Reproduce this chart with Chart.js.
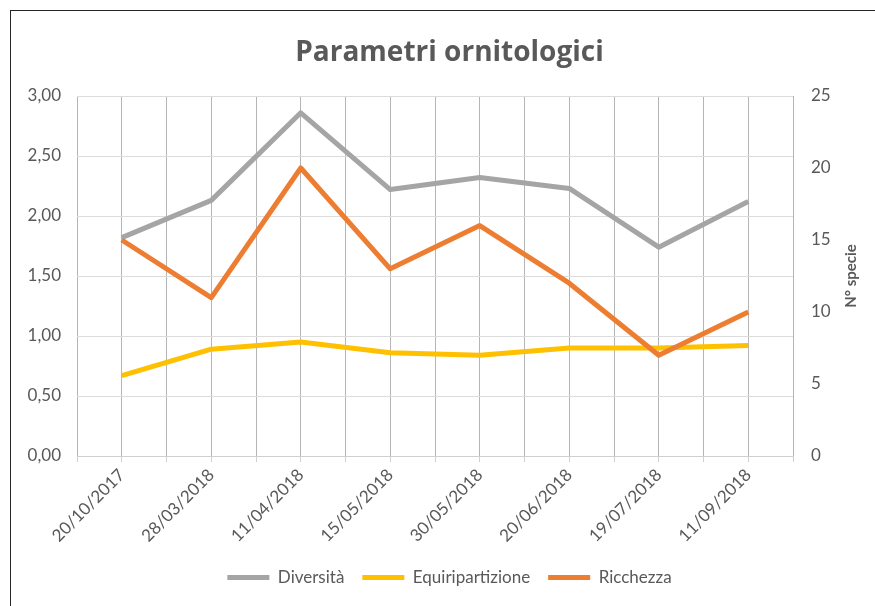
<!DOCTYPE html>
<html lang="it">
<head>
    <meta charset="UTF-8">
    <title>Parametri ornitologici</title>
    <script src="https://cdn.jsdelivr.net/npm/chart.js"></script>
    <style>
        body { margin: 0; background: #fff; overflow: hidden; }
        #cornice {
            position: absolute; left: 10px; top: 10px; width: 900px; height: 640px;
            border: 1.5px solid #262626; box-sizing: border-box;
        }
        #box { position: absolute; left: 0; top: 0; width: 875px; height: 606px; }
    </style>
</head>
<body>
    <div id="cornice"></div>
    <div id="box"><canvas id="grafico"></canvas></div>

    <script>
        // dati
        const date = ['20/10/2017', '28/03/2018', '11/04/2018', '15/05/2018',
                      '30/05/2018', '20/06/2018', '19/07/2018', '11/09/2018'];
        const diversita = [1.82, 2.13, 2.86, 2.22, 2.32, 2.23, 1.74, 2.12];
        const equiripartizione = [0.67, 0.89, 0.95, 0.86, 0.84, 0.90, 0.90, 0.92];
        const ricchezza = [15, 11, 20, 13, 16, 12, 7, 10];

        const grigio = '#595959';
        const punti = arr => arr.map((v, i) => ({ x: i, y: v }));

        // titolo dell'asse destro, letto dal basso verso l'alto
        const titoloDestro = {
            id: 'titoloDestro',
            afterDraw(chart) {
                const ctx = chart.ctx;
                const area = chart.chartArea;
                ctx.save();
                ctx.translate(851, (area.top + area.bottom) / 2);
                ctx.rotate(-Math.PI / 2);
                ctx.font = 'bold 15px Lato';
                ctx.fillStyle = grigio;
                ctx.textAlign = 'center';
                ctx.textBaseline = 'middle';
                ctx.fillText('N° specie', 0, 0);
                ctx.restore();
            }
        };

        const ctx = document.getElementById('grafico');
        new Chart(ctx, {
            type: 'line',
            data: {
                datasets: [
                    { label: 'Diversità', data: punti(diversita), borderColor: '#A5A5A5', backgroundColor: '#A5A5A5', yAxisID: 'y', order: 3 },
                    { label: 'Equiripartizione', data: punti(equiripartizione), borderColor: '#FFC000', backgroundColor: '#FFC000', yAxisID: 'y', order: 2 },
                    { label: 'Ricchezza', data: punti(ricchezza), borderColor: '#ED7D31', backgroundColor: '#ED7D31', yAxisID: 'y1', order: 1 }
                ]
            },
            options: {
                responsive: true,
                maintainAspectRatio: false,
                animation: false,
                elements: {
                    line: { borderWidth: 5, tension: 0, borderJoinStyle: 'round' },
                    point: { radius: 0, hoverRadius: 0 }
                },
                layout: { padding: { top: 36, bottom: 10, left: 24, right: 0 } },
                plugins: {
                    title: {
                        display: true,
                        text: 'Parametri ornitologici',
                        color: grigio,
                        font: { family: 'Open Sans', size: 28, weight: 'bold', lineHeight: 1.2 },
                        padding: { top: 0, bottom: 26.4 }
                    },
                    legend: {
                        position: 'bottom',
                        labels: {
                            usePointStyle: true,
                            pointStyle: 'line',
                            pointStyleWidth: 42,
                            boxWidth: 42,
                            color: grigio,
                            font: { family: 'Lato', size: 17 },
                            padding: 18,
                            sort: (a, b) => a.datasetIndex - b.datasetIndex,
                            generateLabels: chart => Chart.defaults.plugins.legend.labels.generateLabels(chart)
                                .map(item => ({ ...item, lineWidth: 5 }))
                        }
                    },
                    tooltip: { enabled: false }
                },
                scales: {
                    x: {
                        type: 'linear',
                        min: -0.5,
                        max: 7.5,
                        afterFit: s => { s.height = 95; },
                        grid: { color: '#b5b5b5', tickLength: 6, tickColor: '#d0d0d0' },
                        border: { color: '#d0d0d0' },
                        ticks: {
                            stepSize: 0.5,
                            autoSkip: false,
                            minRotation: 45,
                            maxRotation: 45,
                            color: grigio,
                            font: { family: 'Lato', size: 17 },
                            callback: v => Number.isInteger(v) ? date[v] : ''
                        }
                    },
                    y: {
                        position: 'left',
                        min: 0,
                        max: 3,
                        afterFit: s => { s.width = 53; },
                        grid: { color: '#dcdcdc', drawTicks: false },
                        border: { display: false },
                        ticks: {
                            stepSize: 0.5,
                            padding: 16,
                            color: grigio,
                            font: { family: 'Lato', size: 17 },
                            callback: v => v.toFixed(2).replace('.', ',')
                        }
                    },
                    y1: {
                        position: 'right',
                        min: 0,
                        max: 25,
                        afterFit: s => { s.width = 82; },
                        grid: { drawOnChartArea: false, drawTicks: false },
                        border: { display: false },
                        ticks: {
                            stepSize: 5,
                            padding: 18,
                            color: grigio,
                            font: { family: 'Lato', size: 17 }
                        }
                    }
                }
            },
            plugins: [titoloDestro]
        });
    </script>
</body>
</html>
